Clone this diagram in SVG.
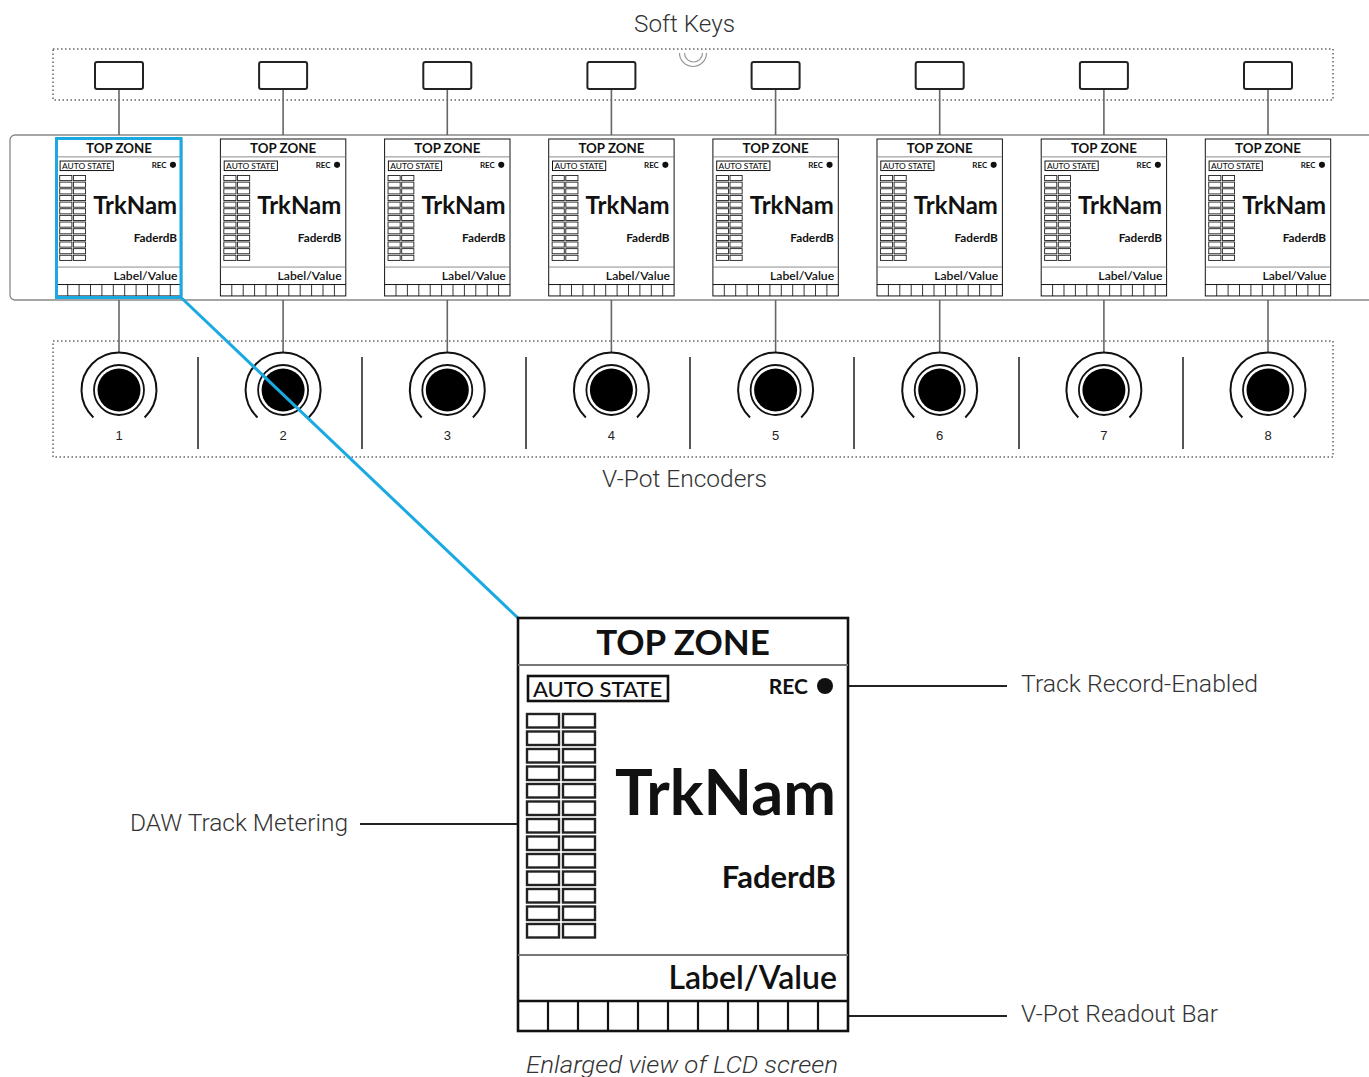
<svg xmlns="http://www.w3.org/2000/svg" xmlns:xlink="http://www.w3.org/1999/xlink" width="1369" height="1077" viewBox="0 0 1369 1077">
<style>
.lbl{font-family:Roboto,"Liberation Sans",sans-serif;font-weight:300;fill:#333;font-size:24px}
.num{font-family:"Liberation Sans",Arial,sans-serif;font-size:13px;fill:#222;text-anchor:middle}
.lcdt{font-family:Lato,"Liberation Sans",sans-serif;fill:#111}
.dot{fill:none;stroke:#666;stroke-width:1.5;stroke-dasharray:1.5 2.5}
.stem{stroke:#666;stroke-width:1.6}
.key{fill:#fff;stroke:#222;stroke-width:2}
.sep{stroke:#555;stroke-width:2}
.call{stroke:#222;stroke-width:2}
.div{stroke:#777;stroke-width:2.2}
.cell{fill:#fff;stroke:#222;stroke-width:2.4}
</style>
<defs>
<g id="lcd">
  <rect x="0" y="0" width="330" height="413" fill="#fff" stroke="#111" stroke-width="2.6"/>
  <text class="lcdt" x="165" y="37" font-size="35" font-weight="700" text-anchor="middle">TOP ZONE</text>
  <line class="div" x1="0" y1="47" x2="330" y2="47"/>
  <rect x="10" y="58" width="140" height="25" fill="#fff" stroke="#111" stroke-width="2.6"/>
  <text class="lcdt" x="15" y="79" font-size="22" font-weight="500">AUTO STATE</text>
  <text class="lcdt" x="290" y="76" font-size="21" font-weight="700" text-anchor="end" fill="#222">REC</text>
  <circle cx="307" cy="68" r="8" fill="#111"/>
  <g id="meters">
    <rect class="cell" x="9" y="96" width="32" height="13.5"/><rect class="cell" x="45" y="96" width="32" height="13.5"/>
    <rect class="cell" x="9" y="113.5" width="32" height="13.5"/><rect class="cell" x="45" y="113.5" width="32" height="13.5"/>
    <rect class="cell" x="9" y="131" width="32" height="13.5"/><rect class="cell" x="45" y="131" width="32" height="13.5"/>
    <rect class="cell" x="9" y="148.5" width="32" height="13.5"/><rect class="cell" x="45" y="148.5" width="32" height="13.5"/>
    <rect class="cell" x="9" y="166" width="32" height="13.5"/><rect class="cell" x="45" y="166" width="32" height="13.5"/>
    <rect class="cell" x="9" y="183.5" width="32" height="13.5"/><rect class="cell" x="45" y="183.5" width="32" height="13.5"/>
    <rect class="cell" x="9" y="201" width="32" height="13.5"/><rect class="cell" x="45" y="201" width="32" height="13.5"/>
    <rect class="cell" x="9" y="218.5" width="32" height="13.5"/><rect class="cell" x="45" y="218.5" width="32" height="13.5"/>
    <rect class="cell" x="9" y="236" width="32" height="13.5"/><rect class="cell" x="45" y="236" width="32" height="13.5"/>
    <rect class="cell" x="9" y="253.5" width="32" height="13.5"/><rect class="cell" x="45" y="253.5" width="32" height="13.5"/>
    <rect class="cell" x="9" y="271" width="32" height="13.5"/><rect class="cell" x="45" y="271" width="32" height="13.5"/>
    <rect class="cell" x="9" y="288.5" width="32" height="13.5"/><rect class="cell" x="45" y="288.5" width="32" height="13.5"/>
    <rect class="cell" x="9" y="306" width="32" height="13.5"/><rect class="cell" x="45" y="306" width="32" height="13.5"/>
  </g>
  <text class="lcdt" x="318" y="197" font-size="63" font-weight="700" text-anchor="end">TrkNam</text>
  <text class="lcdt" x="318" y="270" font-size="31" font-weight="700" text-anchor="end" fill="#222">FaderdB</text>
  <line class="div" x1="0" y1="337" x2="330" y2="337"/>
  <text class="lcdt" x="319" y="371" font-size="32" font-weight="600" text-anchor="end" fill="#222">Label/Value</text>
  <line x1="0" y1="383" x2="330" y2="383" stroke="#111" stroke-width="2.6"/>
  <path d="M30 383V413M60 383V413M90 383V413M120 383V413M150 383V413M180 383V413M210 383V413M240 383V413M270 383V413M300 383V413" stroke="#111" stroke-width="2.2"/>
</g>
<g id="enc">
  <path d="M25.6 27.4A37.5 37.5 0 1 0 -25.6 27.4" fill="none" stroke="#111" stroke-width="2"/>
  <circle r="25" fill="#fff" stroke="#111" stroke-width="1.8"/>
  <circle r="21.5" fill="#000"/>
</g>
</defs>

<text class="lbl" x="634" y="32" textLength="101" lengthAdjust="spacingAndGlyphs">Soft Keys</text>
<text class="lbl" x="602" y="487" textLength="165" lengthAdjust="spacingAndGlyphs">V-Pot Encoders</text>

<g id="softkeys-frame">
  <rect class="dot" x="53" y="49" width="1280" height="51"/>
  <path d="M679.5 53A13.5 13.5 0 0 0 706.5 53M684.5 53A9 9 0 0 0 702.5 53" fill="none" stroke="#999" stroke-width="1.2"/>
</g>
<g id="panel">
  <rect x="10" y="135" width="1420" height="165" rx="5" fill="none" stroke="#888" stroke-width="1.3"/>
</g>
<g id="encoders-frame">
  <rect class="dot" x="53" y="341" width="1280" height="116"/>
  <path class="sep" d="M198 357V449M362 357V449M526 357V449M690 357V449M854 357V449M1019 357V449M1183 357V449"/>
</g>

<g id="connectors">
  <path class="stem" d="M119 89V135M283.1 89V135M447.3 89V135M611.4 89V135M775.6 89V135M939.7 89V135M1103.9 89V135M1268 89V135"/>
  <path class="stem" d="M119 300V352.5M283.1 300V352.5M447.3 300V352.5M611.4 300V352.5M775.6 300V352.5M939.7 300V352.5M1103.9 300V352.5M1268 300V352.5"/>
  <line class="call" x1="848" y1="686" x2="1007" y2="686"/>
  <line class="call" x1="848" y1="1016" x2="1007" y2="1016"/>
  <line class="call" x1="360" y1="824" x2="518" y2="824"/>
</g>

<g id="softkey-1"><rect class="key" x="95" y="62" width="48" height="27" rx="2"/></g>
<g id="softkey-2"><rect class="key" x="259.1" y="62" width="48" height="27" rx="2"/></g>
<g id="softkey-3"><rect class="key" x="423.3" y="62" width="48" height="27" rx="2"/></g>
<g id="softkey-4"><rect class="key" x="587.4" y="62" width="48" height="27" rx="2"/></g>
<g id="softkey-5"><rect class="key" x="751.6" y="62" width="48" height="27" rx="2"/></g>
<g id="softkey-6"><rect class="key" x="915.7" y="62" width="48" height="27" rx="2"/></g>
<g id="softkey-7"><rect class="key" x="1079.9" y="62" width="48" height="27" rx="2"/></g>
<g id="softkey-8"><rect class="key" x="1244" y="62" width="48" height="27" rx="2"/></g>

<g id="lcd-1"><use xlink:href="#lcd" href="#lcd" transform="translate(56.3 139) scale(0.38)"/></g>
<g id="lcd-2"><use xlink:href="#lcd" href="#lcd" transform="translate(220.4 139) scale(0.38)"/></g>
<g id="lcd-3"><use xlink:href="#lcd" href="#lcd" transform="translate(384.6 139) scale(0.38)"/></g>
<g id="lcd-4"><use xlink:href="#lcd" href="#lcd" transform="translate(548.7 139) scale(0.38)"/></g>
<g id="lcd-5"><use xlink:href="#lcd" href="#lcd" transform="translate(712.9 139) scale(0.38)"/></g>
<g id="lcd-6"><use xlink:href="#lcd" href="#lcd" transform="translate(877 139) scale(0.38)"/></g>
<g id="lcd-7"><use xlink:href="#lcd" href="#lcd" transform="translate(1041.2 139) scale(0.38)"/></g>
<g id="lcd-8"><use xlink:href="#lcd" href="#lcd" transform="translate(1205.3 139) scale(0.38)"/></g>

<g id="encoder-1"><use xlink:href="#enc" href="#enc" x="119" y="390"/><text class="num" x="119" y="440">1</text></g>
<g id="encoder-2"><use xlink:href="#enc" href="#enc" x="283.1" y="390"/><text class="num" x="283.1" y="440">2</text></g>
<g id="encoder-3"><use xlink:href="#enc" href="#enc" x="447.3" y="390"/><text class="num" x="447.3" y="440">3</text></g>
<g id="encoder-4"><use xlink:href="#enc" href="#enc" x="611.4" y="390"/><text class="num" x="611.4" y="440">4</text></g>
<g id="encoder-5"><use xlink:href="#enc" href="#enc" x="775.6" y="390"/><text class="num" x="775.6" y="440">5</text></g>
<g id="encoder-6"><use xlink:href="#enc" href="#enc" x="939.7" y="390"/><text class="num" x="939.7" y="440">6</text></g>
<g id="encoder-7"><use xlink:href="#enc" href="#enc" x="1103.9" y="390"/><text class="num" x="1103.9" y="440">7</text></g>
<g id="encoder-8"><use xlink:href="#enc" href="#enc" x="1268" y="390"/><text class="num" x="1268" y="440">8</text></g>

<g id="highlight">
  <rect x="56.5" y="138.5" width="124.5" height="159" fill="none" stroke="#1ba9e1" stroke-width="3"/>
  <line x1="181" y1="297.5" x2="518" y2="618" stroke="#1ba9e1" stroke-width="3"/>
</g>

<g id="lcd-enlarged"><use xlink:href="#lcd" href="#lcd" x="518" y="618"/></g>

<g id="callouts">
  <text class="lbl" x="1021" y="692" textLength="237" lengthAdjust="spacingAndGlyphs">Track Record-Enabled</text>
  <text class="lbl" x="1021" y="1022" textLength="197" lengthAdjust="spacingAndGlyphs">V-Pot Readout Bar</text>
  <text class="lbl" x="130" y="831" textLength="218" lengthAdjust="spacingAndGlyphs">DAW Track Metering</text>
  <text class="lbl" x="526" y="1073" font-style="italic" font-weight="400" textLength="312" lengthAdjust="spacingAndGlyphs">Enlarged view of LCD screen</text>
</g>
</svg>
